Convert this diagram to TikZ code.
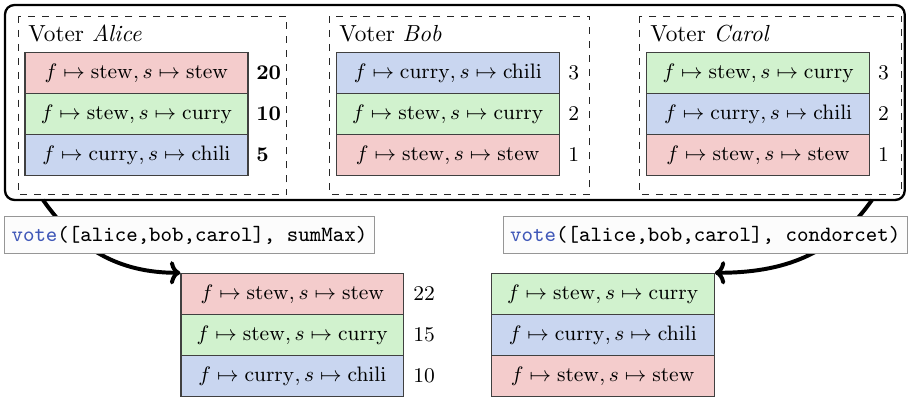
\documentclass[tikz,border=0pt]{standalone}
\usepackage{tikz}
\usetikzlibrary{arrows.meta}

\definecolor{optred}{RGB}{244,204,204}
\definecolor{optgreen}{RGB}{209,242,206}
\definecolor{optblue}{RGB}{201,214,240}
\definecolor{kwblue}{RGB}{64,88,184}
\definecolor{callframe}{RGB}{150,150,150}

\newcommand{\sstew}{$f \mapsto \mathrm{stew}, s \mapsto \mathrm{stew}$}
\newcommand{\scurry}{$f \mapsto \mathrm{stew}, s \mapsto \mathrm{curry}$}
\newcommand{\cchili}{$f \mapsto \mathrm{curry}, s \mapsto \mathrm{chili}$}

\begin{document}
\begin{tikzpicture}
\tikzstyle{option}=[draw=black!75,line width=0.5pt,minimum width=3.37cm,minimum height=0.62cm,inner sep=0pt,font=\small]
\tikzstyle{voter}=[draw=black!85,dashed,thin]
\tikzstyle{score}=[font=\small,anchor=west]
\tikzstyle{call}=[draw=callframe,fill=black!1,minimum height=0.56cm,inner xsep=3pt,font=\fontsize{9.4}{11}\selectfont\ttfamily]
\tikzstyle{result}=[line width=1.7pt,-{Computer Modern Rightarrow[length=4.5pt,width=10pt]}]

\useasboundingbox (0,0) rectangle (13.77,-6.03);

% all voters
\draw[line width=1pt,rounded corners=4pt] (0.076,-0.076) rectangle (13.675,-3.022);
\draw[voter] (0.272,-0.242) rectangle (4.337,-2.946);
\draw[voter] (4.986,-0.242) rectangle (8.915,-2.946);
\draw[voter] (9.670,-0.242) rectangle (13.629,-2.946);

% Alice
\node[anchor=base west] (ta) at (0.306,-0.620) {Voter \textit{Alice}};
\node[option,fill=optred] (a1) at (2.063,-1.103) {\sstew};
\node[option,fill=optgreen] (a2) at (2.063,-1.723) {\scurry};
\node[option,fill=optblue] (a3) at (2.063,-2.343) {\cchili};
\node[score] (na1) at (3.75,-1.103) {\textbf{20}};
\node[score] (na2) at (3.75,-1.723) {\textbf{10}};
\node[score] (na3) at (3.75,-2.343) {\textbf{5}};

% Bob
\node[anchor=base west] (tb) at (5.005,-0.620) {Voter \textit{Bob}};
\node[option,fill=optblue] (b1) at (6.769,-1.103) {\cchili};
\node[option,fill=optgreen] (b2) at (6.769,-1.723) {\scurry};
\node[option,fill=optred] (b3) at (6.769,-2.343) {\sstew};
\node[score] (nb1) at (8.466,-1.103) {3};
\node[score] (nb2) at (8.466,-1.723) {2};
\node[score] (nb3) at (8.466,-2.343) {1};

% Carol
\node[anchor=base west] (tc) at (9.705,-0.620) {Voter \textit{Carol}};
\node[option,fill=optgreen] (c1) at (11.461,-1.103) {\scurry};
\node[option,fill=optblue] (c2) at (11.461,-1.723) {\cchili};
\node[option,fill=optred] (c3) at (11.461,-2.343) {\sstew};
\node[score] (nc1) at (13.15,-1.103) {3};
\node[score] (nc2) at (13.15,-1.723) {2};
\node[score] (nc3) at (13.15,-2.343) {1};

% results
\node[option,fill=optred] (s1) at (4.420,-4.442) {\sstew};
\node[option,fill=optgreen] (s2) at (4.420,-5.062) {\scurry};
\node[option,fill=optblue] (s3) at (4.420,-5.682) {\cchili};
\node[score] (ns1) at (6.123,-4.442) {22};
\node[score] (ns2) at (6.123,-5.062) {15};
\node[score] (ns3) at (6.123,-5.682) {10};
\node[option,fill=optgreen] (k1) at (9.111,-4.442) {\scurry};
\node[option,fill=optblue] (k2) at (9.111,-5.062) {\cchili};
\node[option,fill=optred] (k3) at (9.111,-5.682) {\sstew};

\coordinate (fromL) at (0.65,-3.022);
\coordinate (fromR) at (13.18,-3.022);
\draw[result] (fromL) to[out=-55,in=180] (s1.north west);
\draw[result] (fromR) to[out=-125,in=0] (k1.north east);

\node[call] (vsum) at (2.863,-3.558) {\textcolor{kwblue}{vote}([alice,bob,carol], sumMax)};
\node[call] (vcon) at (10.660,-3.558) {\textcolor{kwblue}{vote}([alice,bob,carol], condorcet)};
\end{tikzpicture}
\end{document}
